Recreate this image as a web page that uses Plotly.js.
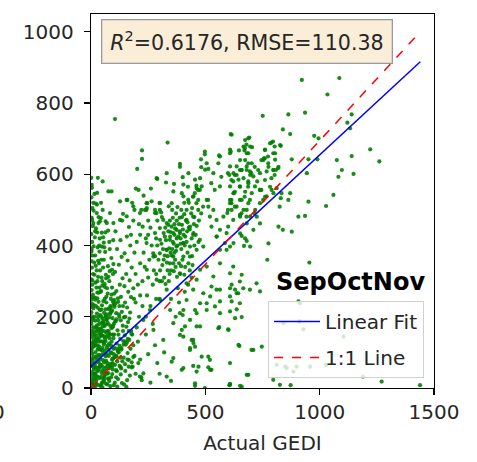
<!DOCTYPE html>
<html>
<head>
<meta charset="utf-8">
<script src="https://cdn.plot.ly/plotly-3.0.1.min.js"></script>
<style>html,body{margin:0;padding:0;background:#fff;}#chart{width:477px;height:462px;}</style>
</head>
<body>
<div id="chart"></div>
<script>
// [Actual GEDI, Predicted] samples
const coreSamples = [
[3,8],[6,18],[2,27],[9,36],[4,44],[12,52],[1,61],[7,70],[3,79],[10,88],[5,97],[2,106],[8,115],[4,124],[11,133],[1,142],[6,151],[3,160],[9,170],[2,180],[7,190],[4,201],[1,213],[10,224],[5,236],[2,248],[8,262],[3,275],[6,290],[1,305],[9,320],[4,338],[2,356],[7,372],[3,390],[5,410],[1,432],[8,455],[3,478],[6,505],[2,535],[4,562],[1,590],
[18,5],[22,14],[16,24],[28,32],[20,41],[34,49],[25,57],[17,66],[31,74],[23,83],[37,91],[19,100],[29,108],[35,117],[21,126],[27,135],[38,143],[16,152],[32,161],[24,170],[36,180],[19,189],[30,199],[26,209],[39,219],[22,230],[33,242],[17,254],[28,268],[37,282],[20,296],[31,312],[25,330],[35,350],[18,372],[29,395],[38,420],[22,448],[33,480],[26,515],[15,545],
[42,6],[48,15],[55,23],[44,31],[62,40],[51,48],[67,56],[46,64],[58,72],[41,81],[64,89],[53,97],[47,106],[69,114],[56,122],[43,131],[61,139],[50,147],[66,156],[45,165],[59,174],[52,183],[68,192],[44,201],[57,211],[63,221],[48,232],[54,244],[67,256],[42,270],[60,284],[49,300],[65,318],[53,338],[45,360],[62,382],[56,408],[47,436],[64,468],[51,500],
[72,10],[80,20],[88,30],[75,42],[95,52],[83,61],[71,70],[92,80],[78,90],[86,100],[98,110],[74,120],[90,130],[81,140],[96,150],[77,160],[88,172],[72,184],[94,196],[84,208],[76,222],[99,236],[87,250],[73,265],[92,282],[80,300],[96,320],[74,342],[89,365],[82,390],[97,415],[75,442],
[104,15],[118,25],[130,38],[110,50],[125,62],[137,75],[106,88],[121,100],[133,112],[112,125],[128,138],[101,150],[116,162],[139,175],[108,188],[124,200],[135,214],[103,228],[119,242],[131,256],[111,272],[126,290],[138,308],[105,326],[122,346],[134,368],[114,390],[129,415],[107,440],[136,470],
[145,10],[158,22],[170,35],[150,48],[165,60],[178,72],[143,85],[160,98],[173,110],[152,122],[167,135],[148,148],[176,160],[155,172],[162,185],[144,198],[171,212],[158,226],[149,240],[175,255],[163,270],[146,286],[169,302],[154,320],[178,338],[160,358],[147,378],[172,400],[157,425],[166,452],
[10,3],[30,9],[50,2],[65,12],[85,5],[100,8],[115,4],[135,14],[155,3],[12,58],[40,65],[35,130],[60,105],[80,125],[100,95],[115,75],[25,160],[50,195],[70,145],[95,175],[110,210],[130,190],[140,160],[150,130],[120,150],[85,230],[60,250],[45,220],[15,200],[30,225],[102,265],[140,230],[168,195],[180,150],[185,120],[190,90],[182,60],[195,40],[200,170],[210,200],[205,130],[215,80],[220,30],[188,250],
[14,40],[26,88],[52,130],[78,178],[93,60],[64,200],[36,110],[20,170],[58,30],[110,30],[128,85],[90,215],[70,95],[44,150],[8,195],[120,110],[100,180],[57,160],[84,150],[32,190],[16,120],[67,240],[124,230],[150,200],[165,160],[38,60],[75,26],[105,65],[132,55],[160,80]
];
const coreDenseSamples = [
[5,14],[14,27],[22,33],[27,48],[38,57],[46,11],[55,24],[60,35],[71,40],[79,55],[84,63],[95,70],[99,84],[111,90],[116,105],[4,112],[15,118],[20,133],[30,137],[36,153],[47,158],[51,173],[63,178],[67,193],[79,198],[86,213],[92,218],[102,233],[107,238],[118,252],
[9,67],[18,73],[24,88],[34,93],[40,108],[50,112],[58,128],[64,132],[74,148],[80,152],[90,168],[96,172],[106,187],[112,193],[122,207],
[3,228],[12,233],[18,248],[28,252],[34,268],[44,272],[50,288],[60,292],[66,308],[76,312],[82,328],[92,332],[98,348],
[7,127],[16,143],[23,147],[32,163],[38,167],[48,183],[54,187],[64,203],[70,207],[80,223],[86,227],[96,243],[102,247],
[13,9],[23,22],[37,28],[47,42],[61,48],[71,62],[85,68],[95,82],[109,88],[119,102],[133,108],[143,122],[157,128],
[6,302],[15,318],[21,343],[31,357],[37,383],[47,397],[53,423],[63,437],[69,463],[2,383],[11,398],[17,423],[27,437],[33,463],[43,477],[5,472],[11,498],[21,518],[27,548],
[41,7],[57,19],[77,27],[93,39],[113,47],[129,59],[149,67],[165,79],[185,87],[33,72],[53,78],[69,92],[89,98],[105,112],[125,118],[141,132],[161,138],[177,152],
[8,82],[19,58],[29,118],[42,92],[54,58],[66,76],[76,108],[88,118],[98,140],[58,145],[26,176],[40,205],[72,160],[12,160],[8,255],[24,282],[46,310],[14,352],[40,330],[56,360],[28,300],[70,280],[90,262],[36,400],[18,440],[58,395],[80,410],[10,520],[44,520],[30,590]
];
const leftSamples = [
[185,280],[195,320],[205,290],[215,350],[190,380],[200,410],[225,300],[235,340],[230,380],[245,260],[250,310],[240,420],[255,360],[265,400],[260,450],[275,330],[270,290],[280,370],[285,420],[290,470],[210,460],[220,500],[246,519],[242,500],[202,615],[208,556],[223,667],[223,643],[196,560],[180,520],[185,470],[230,540],[262,560],[290,587],[300,520],[280,500],[250,470],[215,430],[195,240],[225,230],[260,230],[240,200],[270,180],[285,250],[300,300],[215,260],[175,430],[190,500],
[3,570],[51,580],[76,552],[90,552],[127,524],[156,528],[105,755],[10,463],[25,491],[39,468],[83,491],[98,463],[127,472],[156,482],[185,510],[214,491],[244,505],[265,524],[287,491],[302,519],[140,489],[159,528]
];
const armSamples = [
[418,294],[389,322],[360,350],[331,388],[302,416],[346,425],[404,407],[433,369],[477,332],[462,304],[506,341],[535,313],[564,350],[593,388],[623,407],[550,425],[491,397],[448,435],[273,369],[244,332],[287,304],[331,276],[302,247],[258,219],[229,191],[273,163],[316,135],[360,182],[389,210],[346,219],
[622,341],[608,322],[659,318],[651,299],[615,290],[630,276],[644,266],[666,280],[695,276],[724,294],[739,271],[608,257],[651,238],[564,243],[506,238],[549,276],[527,285],[491,266],[447,276],[418,247],[404,219],[455,219],[433,191],[462,173],[411,173],[389,149],[401,205],
[243,519],[236,500],[280,491],[301,500],[316,472],[331,463],[352,453],[301,449],[280,435],[323,425],[345,416],[360,435],[374,444],[389,435],[404,407],[374,397],[331,388],[301,378],[272,378],[243,407],[250,430],[226,453],[360,369],[404,369],[433,397],[462,388],[476,416],[447,430],[433,453],[418,472],[447,481],[469,500],[425,528],[404,538],[469,528],[476,556],[506,528],[513,509],[535,500],[520,481],[549,472],[527,453],[564,444],[549,425],[593,435],[586,407],[564,388],[608,397],[600,453],[579,481],
[300,250],[320,310],[340,300],[350,330],[315,390],[335,370],[365,380],[375,420],[385,460],[370,340],[380,280],[390,320],[400,360],[410,400],[420,440],[395,500],[440,420],[450,460],[310,480],[340,510],[372,490],[392,420],[412,340],[422,380],[432,330],[442,370],[452,400],[350,250],[370,200],[385,240],[410,270],[425,290],[440,310],[290,400],[295,360],[285,320],
[335,330],[345,350],[355,390],[365,430],[375,470],[385,350],[395,390],[405,430],[415,470],[345,470],[355,500],[365,460],[325,450],[318,360],[338,440],[348,380],[358,410],[368,360],[378,400],[388,440],[398,480],[408,520],[418,410],[428,450],[438,490],
[302,330],[312,345],[322,372],[332,352],[342,392],[352,372],[362,405],[372,385],[382,425],[392,405],[402,445],[412,425],[422,465],[432,445],[442,505],[308,405],[318,435],[328,415],[338,458],[348,438],[358,478],[368,448],[378,508],[388,478],[398,458],[408,488],[418,500],[428,520],[452,480],[462,455],[472,470],[482,490],[310,300],[326,292],[344,320],[362,328],[376,312],[394,342],[408,318],[426,350],[444,345],[458,430],[470,410]
];
const upperSamples = [
[455,585],[477,589],[499,613],[506,631],[484,566],[462,561],[448,538],[426,603],[404,571],[397,547],[360,552],[353,519],[335,689],[389,629],[389,621],[287,589],[331,603],[328,577],[363,573],[401,592],[307,493],
[615,711],[564,650],[608,669],[608,659],[637,622],[623,603],[645,585],[557,631],[535,603],[564,566],[623,547],[608,528],[498,664],[498,656],[560,653],[611,664],[647,667],[680,683],[688,659],[673,673],[481,642],[513,615],[692,703],[704,676],[671,667],[482,620],
[424,565],[461,568],[468,556],[454,547],[446,537],[461,519],[526,575],[541,556],[512,528],[490,509],[570,593],[599,603],[629,598],[658,612],[614,584],[629,551],[614,528],[614,519],[629,509],[599,500],[658,490],[672,537],[687,565],[701,603],[716,621],[731,612],[745,640],[760,645],[774,650],[796,692],[803,678],[830,680],[818,617],[803,598],[789,589],[825,509],[833,547],[745,556],[716,490],[680,481],
[608,622],[605,598],[637,598],[651,612],[681,622],[688,631],[695,608],[710,594],[688,580],[651,566],[622,580],[608,566],[625,547],[651,528],[637,509],[608,519],[615,500],[596,491],[622,472],[651,486],[681,500],[695,528],[717,566],[727,580],[739,556],[753,528],[768,538],[790,556],[768,608],[797,612],
[783,687],[761,669],[756,645],[775,631],[797,659],[805,641],[809,612]
];
const rightSamples = [
[922,865],[1086,870],[1034,824],[751,764],[863,768],[936,773],[839,726],[871,713],[976,708],[995,701],[1121,745],[1140,768],[1133,729],[611,713],
[674,696],[688,701],[667,678],[696,678],[681,659],[652,640],[674,640],[703,631],[659,612],[681,612],[696,598],[667,589],[688,575],[652,565],[674,551],[703,547],[659,528],[688,519],[667,500],[652,481],[696,481],[681,462],
[761,668],[790,689],[805,659],[827,682],[754,640],[776,621],[798,612],[820,621],[739,603],[761,584],[783,565],[739,556],[761,537],[798,547],[739,519],[718,500],[725,481],[739,462],[710,444],
[878,642],[951,642],[990,642],[944,603],[1075,640],[1140,651],[1097,612],[1148,601],[1082,593],[1221,670],[1261,636],[871,547],[830,533],[812,561],[863,528],[951,523],[1028,511],[1060,542],[907,481],[936,483],[820,453],[839,444],[878,439],[669,399],[681,413],[659,427],[696,397],[652,434],[674,420]
];
const lowerSamples = [
[455,13],[608,12],[645,121],[513,58],[521,51],[484,88],[470,60],[397,51],[353,74],[360,84],[331,32],[290,70],[229,41],[214,32],[207,70],[178,58],[448,126],[440,135],[433,112],[397,163],[404,144],[477,173],[557,168],[601,163],[564,210],[608,215],[637,221],[615,243],[506,219],[542,229],[477,238],[462,210],[521,257],[564,276],[608,280],[637,266],[561,171],[600,165],[630,196],[659,199],[649,118],[447,135],[455,116],[433,107],[404,56],[447,62],[462,46],[520,79],[527,51],[513,88],[608,70],[688,37],[797,23],[826,9],[608,9],[659,4],[455,6],[498,0],[605,8],[652,6],[873,8],[681,37],[1271,18],[1439,8],[1189,32],[702,107],[812,65],[856,56],[899,60],[958,60],[849,60],[885,46],[1028,65],[710,107],[747,116],[907,243],[912,187],[929,165],[842,182],[1104,144],[914,238],[955,352],[771,360],[776,406],[222,22],[260,15],[300,40],[250,95],[280,120],[320,100],[240,150],[350,20]
];
const fitX = [0, 1440];
const fitY = [60, 916];
const oneToOneX = [0, 1440];
const oneToOneY = [0, 1000];
const xTicks = [0, 500, 1000, 1500];
const yTicks = [0, 200, 400, 600, 800, 1000];
const seasonLabel = 'SepOctNov';
const statsText = '<i>R</i><sup>2</sup>=0.6176, RMSE=110.38';

const all = [].concat(coreSamples, coreDenseSamples, leftSamples, armSamples, upperSamples, rightSamples, lowerSamples);
const xs = all.map(p => p[0]);
const ys = all.map(p => p[1]);

const FONT = 'DejaVu Sans, sans-serif';
const traces = [
  {x: xs, y: ys, type: 'scatter', mode: 'markers', showlegend: false,
   marker: {color: 'rgba(0,128,0,0.9)', size: 4.2, line: {width: 0}}, hoverinfo: 'skip'},
  {x: fitX, y: fitY, type: 'scatter', mode: 'lines', name: 'Linear Fit', legendgroup: 'fit',
   line: {color: '#0000ff', width: 1.5}},
  {x: oneToOneX, y: oneToOneY, type: 'scatter', mode: 'lines', name: '1:1 Line', legendgroup: 'one',
   line: {color: '#ff0000', width: 1.5, dash: 'dash'}}
];
const axisCommon = {
  showline: true, linecolor: '#000', linewidth: 1.3, mirror: true,
  ticks: 'outside', ticklen: 6, tickwidth: 1.3, tickcolor: '#000',
  showgrid: false, zeroline: false,
  tickfont: {family: FONT, size: 20, color: '#262626'}
};
const layout = {
  width: 477, height: 462,
  margin: {l: 91, r: 43, t: 14, b: 74, pad: 0},
  paper_bgcolor: '#fff', plot_bgcolor: '#fff',
  font: {family: FONT, size: 20, color: '#262626'},
  xaxis: Object.assign({}, axisCommon, {range: [0, 1500], tickvals: xTicks,
    title: {text: 'Actual GEDI', font: {family: FONT, size: 20, color: '#262626'}, standoff: 12}}),
  yaxis: Object.assign({}, axisCommon, {range: [0, 1050], tickvals: yTicks, ticklabelstandoff: 6}),
  legend: {x: 0.971, y: 0.2326, xanchor: 'right', yanchor: 'top',
    traceorder: 'grouped', tracegroupgap: 7, itemwidth: 46,
    bgcolor: 'rgba(255,255,255,0.8)', bordercolor: '#d0d0d0', borderwidth: 1,
    font: {family: FONT, size: 20, color: '#262626'}},
  annotations: [
    {xref: 'paper', yref: 'paper', x: 0.029, y: 0.987, xanchor: 'left', yanchor: 'top',
     text: statsText, showarrow: false, align: 'left',
     font: {family: FONT, size: 20.6, color: '#262626'},
     bgcolor: '#FAEED9', bordercolor: '#9a9a9a', borderwidth: 1.3, borderpad: 8},
    {xref: 'paper', yref: 'paper', x: 0.98, y: 0.283, xanchor: 'right', yanchor: 'middle',
     text: '<b>' + seasonLabel + '</b>', showarrow: false,
     font: {family: FONT, size: 24, color: '#000'}},
    {xref: 'paper', yref: 'paper', x: -0.271, y: -0.064, xanchor: 'center', yanchor: 'middle',
     text: '0', showarrow: false, font: {family: FONT, size: 20, color: '#262626'}}
  ]
};
Plotly.newPlot('chart', traces, layout, {displayModeBar: false, staticPlot: true});
</script>
</body>
</html>
